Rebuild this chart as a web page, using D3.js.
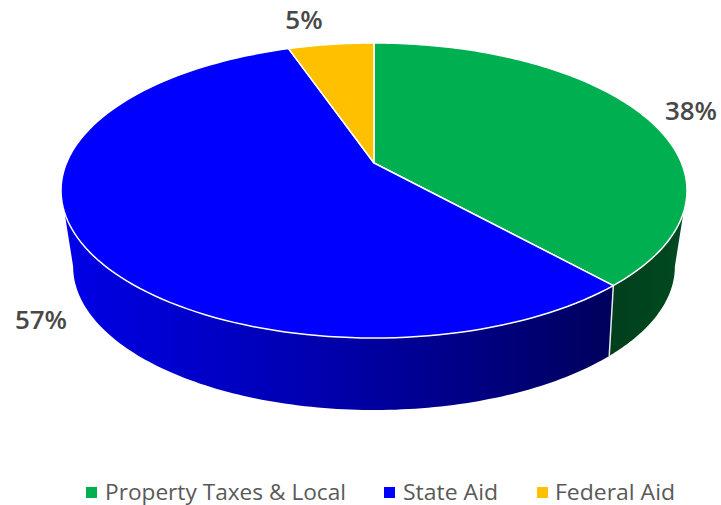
<!DOCTYPE html>
<html><head><meta charset="utf-8">
<script src="https://cdnjs.cloudflare.com/ajax/libs/d3/7.8.5/d3.min.js"></script>
<style>html,body{margin:0;padding:0;background:#fff}svg{display:block}text{font-family:"Open Sans",sans-serif}</style>
</head><body><svg id="chart" width="721" height="505"></svg>
<script>
const categories = ["Property Taxes & Local", "State Aid", "Federal Aid"];
const shares = [38.3, 56.4, 5.3];
const labels = ["38%", "57%", "5%"];
const topColors = ["#00b050", "#0000ff", "#ffc000"];

// layout (perspective pie)
const cx = 374;
const topPlane = {A: 307.5, a: 112, b: 163, k: -0.1864};
const botPlane = {A: 293.5, a: 85, b: 234.8, k: -0.22};
const labelAnchors = [[691, 120], [41, 329], [304, 29]];
const legendItems = [
  {sq: 86, tx: 105, len: 241},
  {sq: 384, tx: 403, len: 95},
  {sq: 537, tx: 555, len: 120}
];

const svg = d3.select("#chart");
const project = (p, theta) => {
  const u = Math.sin(theta), v = -Math.cos(theta), w = 1 + p.k * v;
  return [cx + p.A * u / w, (p.a * v + p.b) / w];
};
const arcs = d3.pie().sort(null).value(d => d)(shares);
const line = d3.line();
const sample = (p, a0, a1) => d3.range(0, 121).map(i => project(p, a0 + (a1 - a0) * i / 120));
const tangent = p => Math.atan2(Math.sqrt(1 - p.k * p.k), p.k);
const TAU = 2 * Math.PI;

const defs = svg.append("defs");
const gradient = (id, x1, x2, stops) => {
  const g = defs.append("linearGradient").attr("id", id).attr("gradientUnits", "userSpaceOnUse")
    .attr("x1", x1).attr("x2", x2).attr("y1", 0).attr("y2", 0);
  stops.forEach(([o, c]) => g.append("stop").attr("offset", o).attr("stop-color", c));
};
gradient("blueSide", 66, 612, [[0, "#0000e6"], [0.45, "#0000b0"], [1, "#00005c"]]);
gradient("greenSide", 610, 686, [[0, "#003f1b"], [1, "#004a21"]]);

// side wall: visible parts of the green and blue slices
const seam = arcs[0].endAngle;
const sides = [
  {top: [tangent(topPlane), seam], bot: [seam, tangent(botPlane)], fill: "url(#greenSide)"},
  {top: [seam, TAU - tangent(topPlane)], bot: [TAU - tangent(botPlane), seam], fill: "url(#blueSide)"}
];
svg.append("g").selectAll("path").data(sides).join("path")
  .attr("d", d => line(sample(topPlane, d.top[0], d.top[1]).concat(sample(botPlane, d.bot[0], d.bot[1]))) + "Z")
  .attr("fill", d => d.fill);

// vertical seam between side walls
svg.append("path")
  .attr("d", line([project(topPlane, seam), project(botPlane, seam)]))
  .attr("stroke", "#e8e8ee").attr("stroke-width", 1.5).attr("fill", "none");

// top face
const apex = [cx, topPlane.b];
svg.append("g").selectAll("path").data(arcs).join("path")
  .attr("d", d => line([apex].concat(sample(topPlane, d.startAngle, d.endAngle))) + "Z")
  .attr("fill", (d, i) => topColors[i])
  .attr("stroke", "#fff").attr("stroke-width", 1.5).attr("stroke-linejoin", "round");

// data labels
svg.append("g").selectAll("text").data(labels).join("text")
  .attr("x", (d, i) => labelAnchors[i][0])
  .attr("y", (d, i) => labelAnchors[i][1])
  .attr("text-anchor", "middle").attr("font-size", 26).attr("font-weight", 600).attr("fill", "#484848")
  .text(d => d);

// legend
const lg = svg.append("g").selectAll("g").data(categories).join("g");
lg.append("rect").attr("x", (d, i) => legendItems[i].sq).attr("y", 487).attr("width", 11).attr("height", 11)
  .attr("fill", (d, i) => topColors[i]);
lg.append("text").attr("x", (d, i) => legendItems[i].tx).attr("y", 499.5)
  .attr("font-size", 21.5).attr("fill", "#595959")
  .attr("textLength", (d, i) => legendItems[i].len).attr("lengthAdjust", "spacingAndGlyphs")
  .text(d => d);
</script></body></html>
